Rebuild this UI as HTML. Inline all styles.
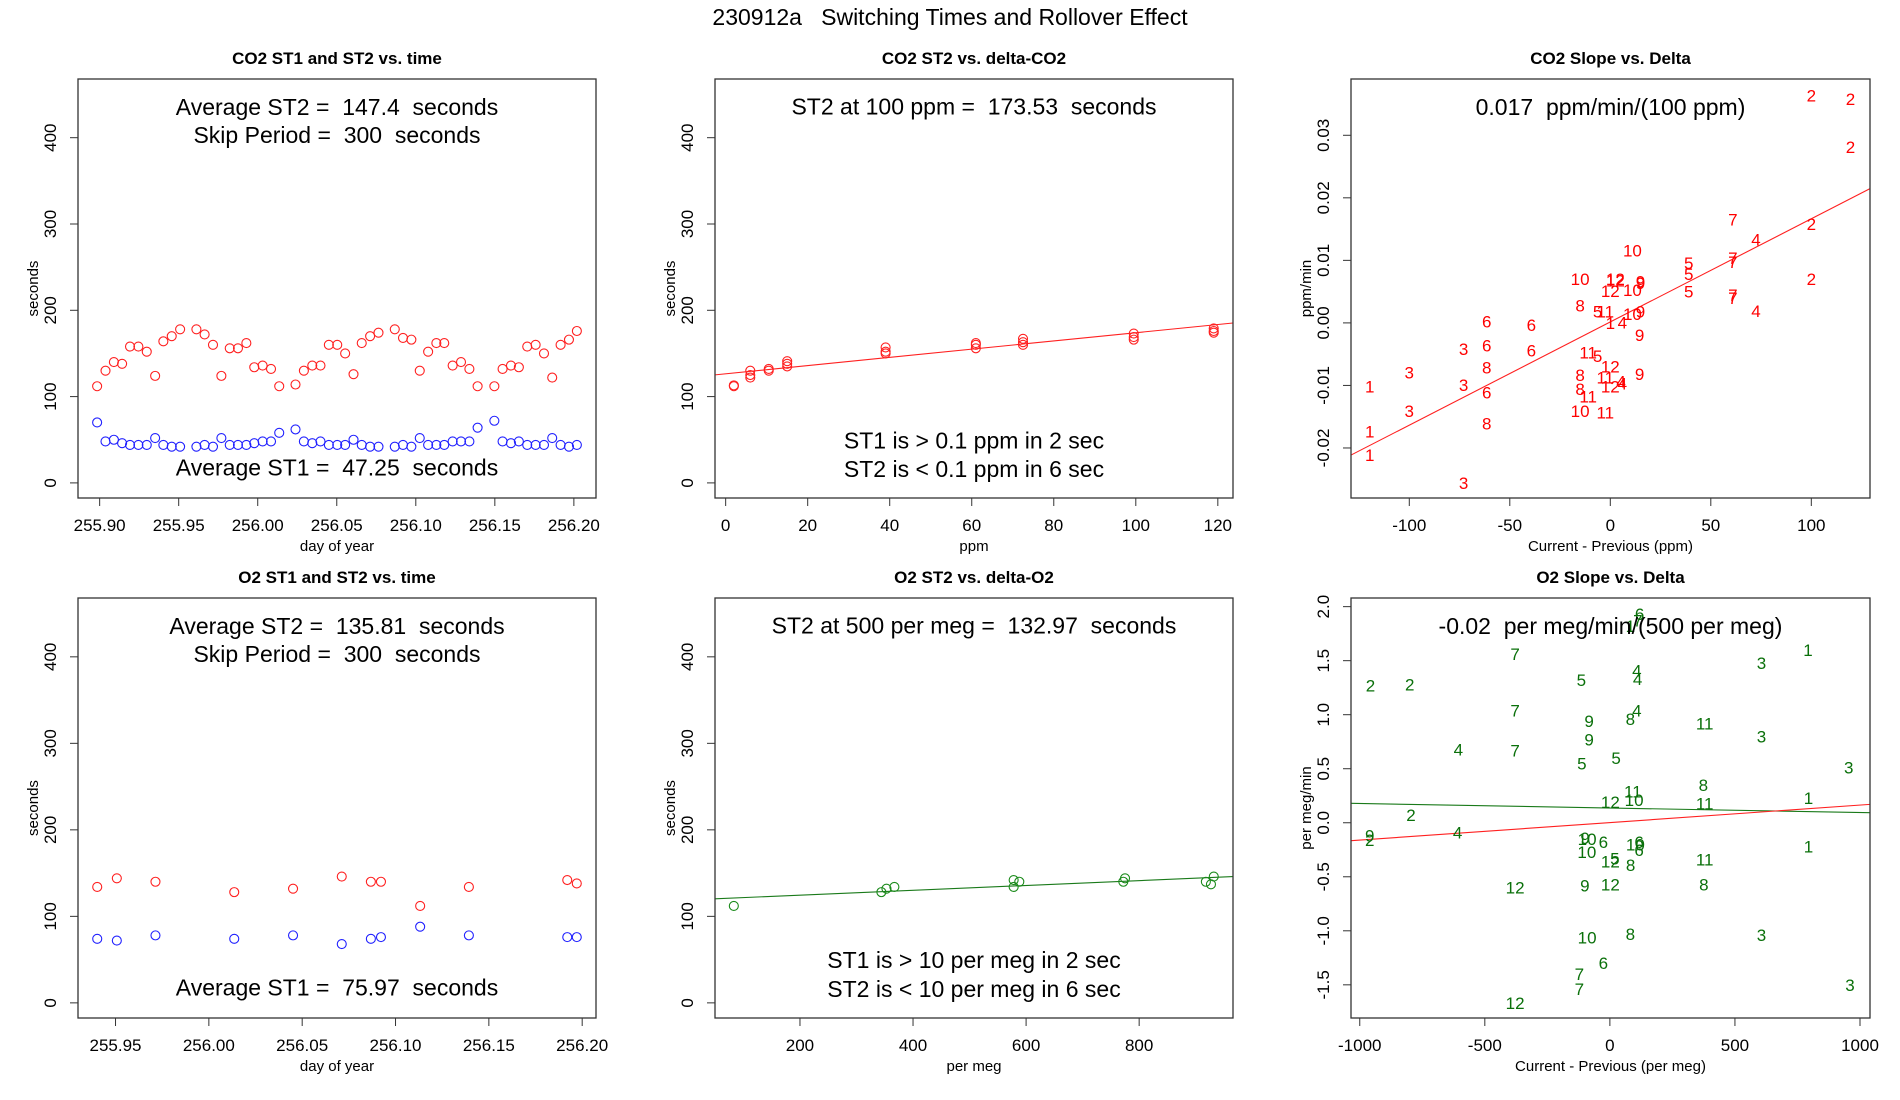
<!DOCTYPE html>
<html><head><meta charset="utf-8"><style>
html,body{margin:0;padding:0;background:#fff;}
svg{display:block;font-family:"Liberation Sans",Arial,sans-serif;}
svg text{white-space:pre;}
</style></head><body>
<svg id="chart" width="1900" height="1100" viewBox="0 0 1900 1100">
<rect x="0" y="0" width="1900" height="1100" fill="#fff"/>
<text x="950" y="25" text-anchor="middle" font-size="23" xml:space="preserve">230912a   Switching Times and Rollover Effect</text>
</svg>
<script>
// ---- Panel 1: CO2 ST1/ST2 vs time ----
const co2Days = [255.8984,255.9037,255.9090,255.9142,255.9192,255.9245,255.9298,255.9351,255.9403,255.9456,255.9509,255.9612,255.9664,255.9717,255.9770,255.9823,255.9875,255.9928,255.9978,256.0031,256.0084,256.0136,256.0239,256.0292,256.0345,256.0397,256.0450,256.0503,256.0553,256.0606,256.0658,256.0711,256.0764,256.0867,256.0919,256.0972,256.1025,256.1078,256.1130,256.1180,256.1233,256.1286,256.1339,256.1391,256.1497,256.1549,256.1602,256.1652,256.1705,256.1758,256.1811,256.1863,256.1916,256.1969,256.2019];
const co2St2 = [112,130,140,138,158,158,152,124,164,170,178,178,172,160,124,156,156,162,134,136,132,112,114,130,136,136,160,160,150,126,162,170,174,178,168,166,130,152,162,162,136,140,132,112,112,132,136,134,158,160,150,122,160,166,176];
const co2St1 = [70,48,50,46,44,44,44,52,44,42,42,42,44,42,52,44,44,44,46,48,48,58,62,48,46,48,44,44,44,50,44,42,42,42,44,42,52,44,44,44,48,48,48,64,72,48,46,48,44,44,44,52,44,42,44];
// ---- Panel 2: CO2 ST2 vs delta ----
const co2Delta = [2,2,6,6,6,10.5,10.5,15,15,15,39,39,39,61,61,61,72.5,72.5,72.5,99.5,99.5,99.5,119,119,119];
const co2DeltaSt2 = [113,112,130,125,122,132,130,141,138,135,157,152,150,162,160,156,167,163,160,173,169,166,179,176,174];
const co2Fit = [126.4,0.476];
// ---- Panel 3: CO2 slope vs delta ----
const co2SlopeX = [100,119.5,119.5,100,100,61,72.5,11,39,61,61,39,-15,2.5,2.5,15,15,0,11,39,61,61,-15,-6.3,-2.5,11,15,72.5,-61.5,-39.3,0,6,14.6,-73,-61.5,-39.3,-11,-6.3,-100,-61.5,0,-15,14.6,-2.5,5.4,6,-119.7,-73,0,-61.5,-15,-11,-100,-15,-2.5,-61.5,-119.7,-119.7,-73];
const co2SlopeY = [0.0364,0.0358,0.0281,0.0158,0.0070,0.0165,0.0133,0.0116,0.0096,0.0104,0.0097,0.0078,0.0070,0.0070,0.0068,0.0066,0.0064,0.0051,0.0053,0.0050,0.0045,0.0040,0.0028,0.0018,0.0018,0.0014,0.0018,0.0019,0.0002,-0.0003,0.0000,0.0001,-0.0019,-0.0042,-0.0036,-0.0044,-0.0047,-0.0053,-0.0079,-0.0071,-0.0070,-0.0083,-0.0082,-0.0087,-0.0094,-0.0097,-0.0102,-0.0099,-0.0102,-0.0111,-0.0106,-0.0118,-0.0141,-0.0141,-0.0143,-0.0161,-0.0174,-0.0211,-0.0256];
const co2SlopeLbl = ["2","2","2","2","2","7","4","10","5","7","7","5","10","12","12","9","9","12","10","5","7","7","8","5","11","10","9","4","6","6","1","4","9","3","6","6","11","5","3","8","12","8","9","11","4","4","1","3","12","6","8","11","3","10","11","8","1","1","3"];
const co2SlopeFit = [0.00015,0.000165];
// ---- Panel 4: O2 ST1/ST2 vs time ----
const o2Days = [255.9402,255.9507,255.9714,256.0136,256.0451,256.0712,256.0868,256.0922,256.1132,256.1393,256.1920,256.1971];
const o2St2 = [134,144,140,128,132,146,140,140,112,134,142,138];
const o2St1 = [74,72,78,74,78,68,74,76,88,78,76,76];
// ---- Panel 5: O2 ST2 vs delta ----
const o2Delta = [83,344,353,367,578,578,588,772,775,918,927,932];
const o2DeltaSt2 = [112,128,132,134,142,134,140,140,144,140,137,146];
const o2Fit = [118.9,0.028];
// ---- Panel 6: O2 slope vs delta ----
const o2SlopeX = [119,82,112,-379,792,606,108,111,-114,-957,-800,-379,108,82,-83,379,606,-83,-606,-379,25,-112,955,374,92,2,97,379,794,-795,-609,-960,-960,-99,-91,-26,102,117,117,794,-92,2,20,83,379,-100,2,376,-379,-91,82,606,-26,-122,-122,960,-379];
const o2SlopeY = [1.93,1.82,1.87,1.56,1.60,1.48,1.41,1.33,1.32,1.27,1.28,1.04,1.04,0.96,0.94,0.92,0.80,0.77,0.68,0.67,0.60,0.55,0.51,0.35,0.29,0.19,0.21,0.18,0.23,0.07,-0.09,-0.12,-0.16,-0.14,-0.15,-0.18,-0.20,-0.18,-0.25,-0.22,-0.27,-0.36,-0.33,-0.39,-0.34,-0.58,-0.57,-0.57,-0.60,-1.06,-1.03,-1.04,-1.30,-1.40,-1.54,-1.50,-1.67];
const o2SlopeLbl = ["6","1","7","7","1","3","4","4","5","2","2","7","4","8","9","11","3","9","4","7","5","5","3","8","11","12","10","11","1","2","4","9","2","9","10","6","10","6","6","1","10","12","5","8","11","9","12","8","12","10","8","3","6","7","7","3","12"];
const o2SlopeFitGreen = [0.1365,-0.000042];
const o2SlopeFitRed = [0.0015,0.000162];

const NS='http://www.w3.org/2000/svg';
const svg=document.getElementById('chart');
function mk(tag,attrs,parent){const e=document.createElementNS(NS,tag);for(const k in attrs)e.setAttribute(k,attrs[k]);(parent||svg).appendChild(e);return e;}

function panel(cfg){
  const g=mk('g',{});
  
  
  const {x0,x1,y0,y1,xmin,xmax,ymin,ymax}=cfg;
  const sx=v=>x0+(v-xmin)/(xmax-xmin)*(x1-x0);
  const sy=v=>y1-(v-ymin)/(ymax-ymin)*(y1-y0);
  const t=mk('text',{x:(x0+x1)/2,y:y0-15,'text-anchor':'middle','font-size':17,'font-weight':'bold'},g);
  t.textContent=cfg.title;
  
  
  const cid='clip'+cfg.name;
  const cp=mk('clipPath',{id:cid},g);mk('rect',{x:x0,y:y0,width:x1-x0,height:y1-y0},cp);
  const inner=mk('g',{'clip-path':'url(#'+cid+')'},g);
  cfg.draw(inner,sx,sy);
  const box=mk('rect',{x:x0,y:y0,width:x1-x0,height:y1-y0,fill:'none',stroke:'#333','stroke-width':1.3},g);
  
  
  cfg.xticks.forEach((v,i)=>{
    const X=sx(v);
    mk('line',{x1:X,x2:X,y1:y1,y2:y1+8,stroke:'#333'},g);
    const l=mk('text',{x:X,y:y1+33,'text-anchor':'middle','font-size':17},g);
    l.textContent=cfg.xlabels[i];
    
    
  });
  cfg.yticks.forEach((v,i)=>{
    const Y=sy(v);
    mk('line',{x1:x0,x2:x0-8,y1:Y,y2:Y,stroke:'#333'},g);
    const l=mk('text',{x:x0-22,y:Y,'text-anchor':'middle','font-size':17,transform:`rotate(-90 ${x0-22} ${Y})`},g);
    l.textContent=cfg.ylabels[i];
    
    
  });
  const xt=mk('text',{x:(x0+x1)/2,y:y1+53,'text-anchor':'middle','font-size':15},g);
  xt.textContent=cfg.xtitle;
  
  
  const yc=(y0+y1)/2, yx=x0-40;
  const yt=mk('text',{x:yx,y:yc,'text-anchor':'middle','font-size':15,transform:`rotate(-90 ${yx} ${yc})`},g);
  yt.textContent=cfg.ytitle;
  
  
  cfg.notes.forEach(n=>{
    const e=mk('text',{x:(x0+x1)/2,y:y0+n[1]*(y1-y0)+9,'text-anchor':'middle','font-size':23},g);
    e.setAttributeNS('http://www.w3.org/XML/1998/namespace','xml:space','preserve');
    e.textContent=n[0];
    
    
  });
}
function circles(g,sx,sy,xs,ys,col,name){
  xs.forEach((v,i)=>{
    const c=mk('circle',{cx:sx(v),cy:sy(ys[i]),r:4.5,fill:'none',stroke:col,'stroke-width':1.1},g);
    
    
  });
}
function fitline(g,sx,sy,xmin,xmax,fit,col,name){
  const l=mk('line',{x1:sx(xmin),y1:sy(fit[0]+fit[1]*xmin),x2:sx(xmax),y2:sy(fit[0]+fit[1]*xmax),stroke:col,'stroke-width':1.1},g);
  
  
}
function labels(g,sx,sy,xs,ys,lb,col,name){
  xs.forEach((v,i)=>{
    const t=mk('text',{x:sx(v),y:sy(ys[i])+6,'text-anchor':'middle','font-size':17,fill:col},g);
    t.textContent=lb[i];
    
    
  });
}
const secT=[0,100,200,300,400], secL=['0','100','200','300','400'];
const C1=[78,596],C2=[715,1233],C3=[1351,1870],R1=[79,498],R2=[598,1018];

panel({name:'co2-time-panel',title:'CO2 ST1 and ST2 vs. time',x0:C1[0],x1:C1[1],y0:R1[0],y1:R1[1],
 xmin:255.8863,xmax:256.214,ymin:-17.5,ymax:468,
 xticks:[255.9,255.95,256,256.05,256.1,256.15,256.2],xlabels:['255.90','255.95','256.00','256.05','256.10','256.15','256.20'],
 yticks:secT,ylabels:secL,xtitle:'day of year',ytitle:'seconds',
 notes:[['Average ST2 =  147.4  seconds',0.064],['Skip Period =  300  seconds',0.131],['Average ST1 =  47.25  seconds',0.925]],
 draw:(g,sx,sy)=>{circles(g,sx,sy,co2Days,co2St2,'#ff2020','co2-st2-point');circles(g,sx,sy,co2Days,co2St1,'#2020ff','co2-st1-point');}});

panel({name:'co2-delta-panel',title:'CO2 ST2 vs. delta-CO2',x0:C2[0],x1:C2[1],y0:R1[0],y1:R1[1],
 xmin:-2.6,xmax:123.7,ymin:-17.5,ymax:468,
 xticks:[0,20,40,60,80,100,120],xlabels:['0','20','40','60','80','100','120'],
 yticks:secT,ylabels:secL,xtitle:'ppm',ytitle:'seconds',
 notes:[['ST2 at 100 ppm =  173.53  seconds',0.063],['ST1 is > 0.1 ppm in 2 sec',0.86],['ST2 is < 0.1 ppm in 6 sec',0.928]],
 draw:(g,sx,sy)=>{fitline(g,sx,sy,-2.6,123.7,co2Fit,'#ff2020','co2-fit-line');circles(g,sx,sy,co2Delta,co2DeltaSt2,'#ff2020','co2-delta-point');}});

panel({name:'co2-slope-panel',title:'CO2 Slope vs. Delta',x0:C3[0],x1:C3[1],y0:R1[0],y1:R1[1],
 xmin:-129,xmax:129.2,ymin:-0.028,ymax:0.039,
 xticks:[-100,-50,0,50,100],xlabels:['-100','-50','0','50','100'],
 yticks:[-0.02,-0.01,0,0.01,0.02,0.03],ylabels:['-0.02','-0.01','0.00','0.01','0.02','0.03'],xtitle:'Current - Previous (ppm)',ytitle:'ppm/min',
 notes:[['0.017  ppm/min/(100 ppm)',0.064]],
 draw:(g,sx,sy)=>{fitline(g,sx,sy,-129,129.2,co2SlopeFit,'#ff2020','co2-slope-fit');labels(g,sx,sy,co2SlopeX,co2SlopeY,co2SlopeLbl,'#ff0000','co2-slope-label');}});

panel({name:'o2-time-panel',title:'O2 ST1 and ST2 vs. time',x0:C1[0],x1:C1[1],y0:R2[0],y1:R2[1],
 xmin:255.9299,xmax:256.2074,ymin:-17.5,ymax:468,
 xticks:[255.95,256,256.05,256.1,256.15,256.2],xlabels:['255.95','256.00','256.05','256.10','256.15','256.20'],
 yticks:secT,ylabels:secL,xtitle:'day of year',ytitle:'seconds',
 notes:[['Average ST2 =  135.81  seconds',0.064],['Skip Period =  300  seconds',0.131],['Average ST1 =  75.97  seconds',0.925]],
 draw:(g,sx,sy)=>{circles(g,sx,sy,o2Days,o2St2,'#ff2020','o2-st2-point');circles(g,sx,sy,o2Days,o2St1,'#2020ff','o2-st1-point');}});

panel({name:'o2-delta-panel',title:'O2 ST2 vs. delta-O2',x0:C2[0],x1:C2[1],y0:R2[0],y1:R2[1],
 xmin:49.7,xmax:966,ymin:-17.5,ymax:468,
 xticks:[200,400,600,800],xlabels:['200','400','600','800'],
 yticks:secT,ylabels:secL,xtitle:'per meg',ytitle:'seconds',
 notes:[['ST2 at 500 per meg =  132.97  seconds',0.063],['ST1 is > 10 per meg in 2 sec',0.86],['ST2 is < 10 per meg in 6 sec',0.928]],
 draw:(g,sx,sy)=>{fitline(g,sx,sy,49.7,966,o2Fit,'#1a7a1a','o2-fit-line');circles(g,sx,sy,o2Delta,o2DeltaSt2,'#1a8a1a','o2-delta-point');}});

panel({name:'o2-slope-panel',title:'O2 Slope vs. Delta',x0:C3[0],x1:C3[1],y0:R2[0],y1:R2[1],
 xmin:-1035,xmax:1040,ymin:-1.807,ymax:2.08,
 xticks:[-1000,-500,0,500,1000],xlabels:['-1000','-500','0','500','1000'],
 yticks:[-1.5,-1,-0.5,0,0.5,1,1.5,2],ylabels:['-1.5','-1.0','-0.5','0.0','0.5','1.0','1.5','2.0'],xtitle:'Current - Previous (per meg)',ytitle:'per meg/min',
 notes:[['-0.02  per meg/min/(500 per meg)',0.064]],
 draw:(g,sx,sy)=>{fitline(g,sx,sy,-1035,1040,o2SlopeFitGreen,'#1a7a1a','o2-slope-fit-green');fitline(g,sx,sy,-1035,1040,o2SlopeFitRed,'#ff2020','o2-slope-fit-red');labels(g,sx,sy,o2SlopeX,o2SlopeY,o2SlopeLbl,'#0a700a','o2-slope-label');}});
</script>
</body></html>
